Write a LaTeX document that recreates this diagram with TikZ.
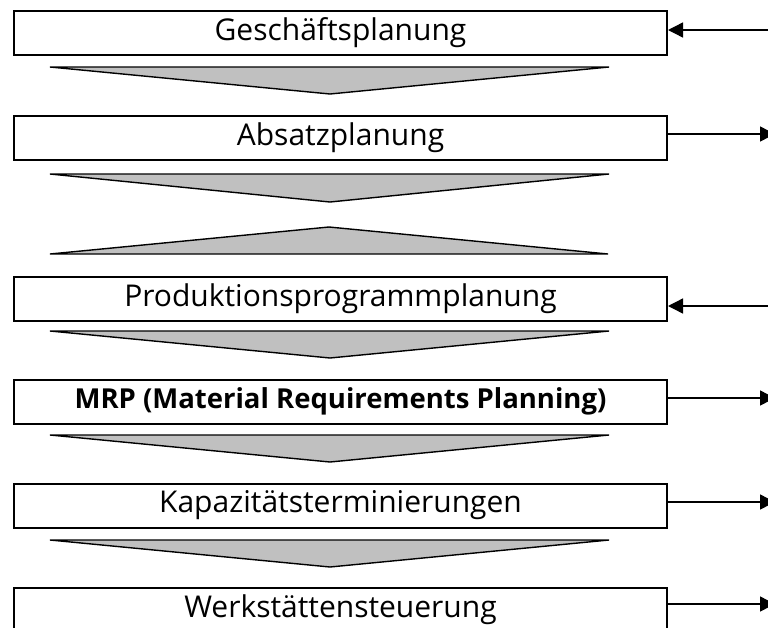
\documentclass[tikz,border=0pt]{standalone}
\usepackage{fontspec}
\setmainfont{Open Sans}
\usetikzlibrary{arrows.meta}
\definecolor{chev}{HTML}{C0C0C0}
\tikzset{
  stage/.style={draw=black, line width=2pt, fill=white, minimum width=653pt,
    minimum height=44pt, inner sep=0pt, font=\fontsize{30}{34}\selectfont},
  flow/.style={draw=black, line width=1.4pt, fill=chev, line join=miter},
  link/.style={line width=1.4pt, -{Triangle[length=15pt,width=15pt]}}
}
\begin{document}
\begin{tikzpicture}[x=1pt,y=-1pt]
\useasboundingbox (0,0) rectangle (768,627);
\clip (0,0) rectangle (768,627);
\fill[white] (0,0) rectangle (768,627);

% stages
\node[stage] (b1) at (340.5,33)   {Geschäftsplanung};
\node[stage] (b2) at (340.5,137.5) {Absatzplanung};
\node[stage] (b3) at (340.5,298.5) {Produktionsprogrammplanung};
\node[stage, font=\fontsize{27.5}{32}\selectfont\bfseries] (b4) at (340.5,401.5) {MRP (Material Requirements Planning)};
\node[stage] (b5) at (340.5,505.5) {Kapazitätsterminierungen};
\node[stage] (b6) at (340.5,609.5) {Werkstättensteuerung};

% flow chevrons between stages
\draw[flow] (50,67)  -- (609,67)  -- (330,94)  -- cycle;
\draw[flow] (50,174) -- (609,174) -- (330,202) -- cycle;
\draw[flow] (50,254) -- (608,254) -- (329,227) -- cycle;
\draw[flow] (50,331) -- (609,331) -- (330,358) -- cycle;
\draw[flow] (50,435) -- (609,435) -- (330,462) -- cycle;
\draw[flow] (50,540) -- (609,540) -- (330,567) -- cycle;

% external links on the right (incoming from the edge, outgoing past it)
\coordinate (r1) at (768,30);
\coordinate (r2) at (775,134);
\coordinate (r3) at (768,306);
\coordinate (r4) at (775,398);
\coordinate (r5) at (775,502);
\coordinate (r6) at (775,604);
\draw[link] (r1) -- (r1 -| b1.east);
\draw[link] (r2 -| b2.east) -- (r2);
\draw[link] (r3) -- (r3 -| b3.east);
\draw[link] (r4 -| b4.east) -- (r4);
\draw[link] (r5 -| b5.east) -- (r5);
\draw[link] (r6 -| b6.east) -- (r6);
\end{tikzpicture}
\end{document}
